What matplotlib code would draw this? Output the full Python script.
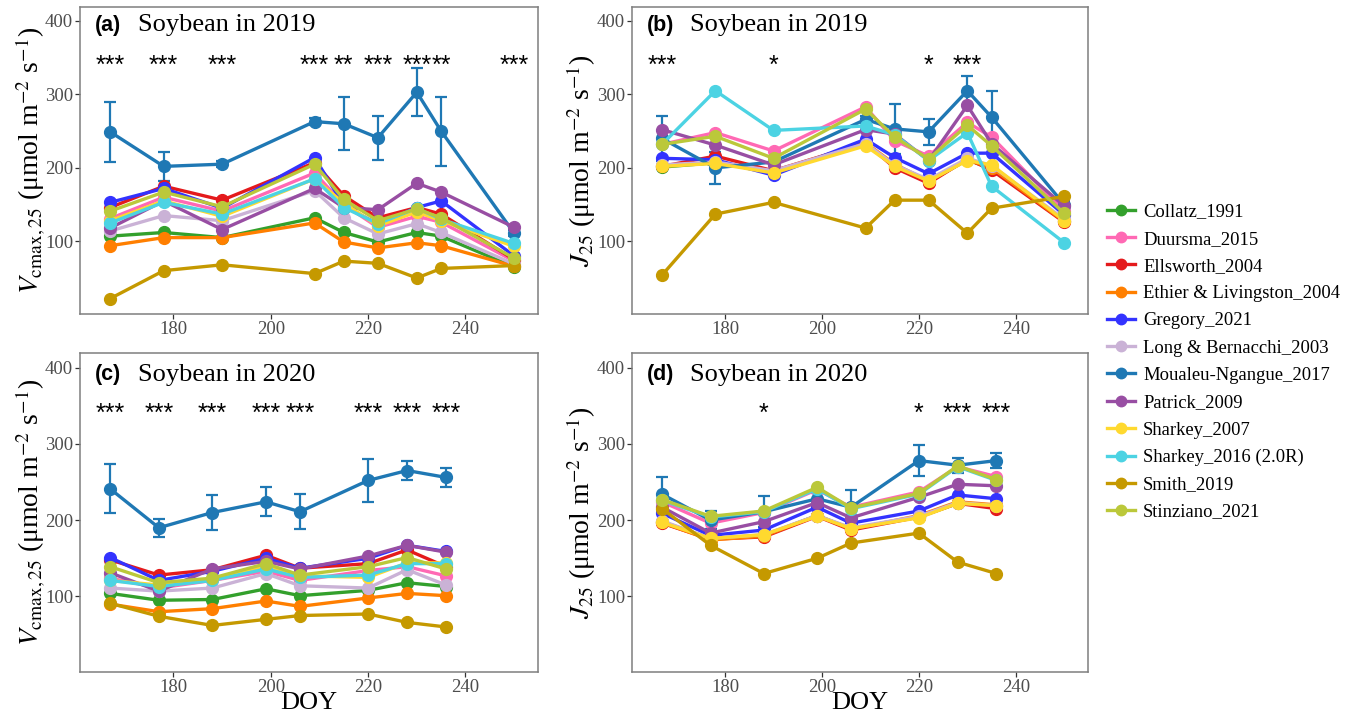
import numpy as np
import matplotlib
matplotlib.use("Agg")
import matplotlib.pyplot as plt
from matplotlib.lines import Line2D

plt.rcParams['font.family'] = ['Liberation Serif', 'DejaVu Serif']
plt.rcParams['mathtext.fontset'] = 'stix'

# Study names and colours (legend order)
studies = ["Collatz_1991", "Duursma_2015", "Ellsworth_2004", "Ethier & Livingston_2004",
           "Gregory_2021", "Long & Bernacchi_2003", "Moualeu-Ngangue_2017", "Patrick_2009",
           "Sharkey_2007", "Sharkey_2016 (2.0R)", "Smith_2019", "Stinziano_2021"]
colors = ["#33A02C", "#FF69B4", "#E41A1C", "#FF7F00", "#3333FF", "#CAB2D6",
          "#1F78B4", "#984EA3", "#FFD92F", "#4CD3E3", "#C59900", "#BBC83A"]

doy_2019 = [167, 178, 190, 209, 215, 222, 230, 235, 250]
doy_2020 = [167, 177, 188, 199, 206, 220, 228, 236]

# Vcmax,25 2019
vcmax_2019 = {
    "Collatz_1991":             [107, 112, 105, 132, 112, 99, 112, 107, 65],
    "Duursma_2015":             [131, 160, 141, 193, 150, 119, 134, 126, 73],
    "Ellsworth_2004":           [146, 175, 156, 207, 162, 132, 146, 137, 75],
    "Ethier & Livingston_2004": [94, 105, 105, 125, 99, 91, 98, 94, 66],
    "Gregory_2021":             [153, 172, 145, 214, 149, 123, 146, 155, 80],
    "Long & Bernacchi_2003":    [114, 135, 128, 169, 132, 110, 124, 112, 69],
    "Moualeu-Ngangue_2017":     [249, 202, 205, 263, 260, 241, 303, 250, 111],
    "Patrick_2009":             [118, 155, 116, 172, 146, 143, 179, 167, 119],
    "Sharkey_2007":             [128, 155, 134, 185, 152, 121, 140, 128, 93],
    "Sharkey_2016 (2.0R)":      [125, 153, 137, 185, 146, 124, 145, 130, 97],
    "Smith_2019":               [22, 60, 68, 56, 73, 70, 50, 63, 67],
    "Stinziano_2021":           [141, 167, 147, 205, 157, 128, 144, 132, 77],
}
# J25 2019
j_2019 = {
    "Collatz_1991":             [201, 207, 194, 232, 203, 181, 211, 199, 127],
    "Duursma_2015":             [232, 248, 223, 283, 237, 216, 262, 242, 141],
    "Ellsworth_2004":           [202, 216, 196, 234, 200, 179, 212, 197, 126],
    "Ethier & Livingston_2004": [203, 207, 195, 234, 205, 182, 211, 200, 127],
    "Gregory_2021":             [213, 211, 190, 239, 214, 192, 220, 220, 136],
    "Long & Bernacchi_2003":    [204, 208, 196, 233, 204, 184, 213, 203, 130],
    "Moualeu-Ngangue_2017":     [240, 200, 208, 266, 253, 249, 305, 269, 150],
    "Patrick_2009":             [252, 231, 204, 252, 246, 210, 285, 233, 148],
    "Sharkey_2007":             [202, 206, 193, 230, 202, 182, 210, 204, 128],
    "Sharkey_2016 (2.0R)":      [232, 305, 251, 257, 245, 210, 248, 175, 98],
    "Smith_2019":               [54, 137, 153, 118, 156, 156, 111, 145, 161],
    "Stinziano_2021":           [232, 243, 213, 280, 242, 212, 258, 230, 138],
}
# Vcmax,25 2020
vcmax_2020 = {
    "Collatz_1991":             [104, 95, 96, 110, 101, 108, 118, 113],
    "Duursma_2015":             [124, 111, 121, 133, 121, 134, 139, 127],
    "Ellsworth_2004":           [148, 128, 135, 154, 137, 143, 161, 139],
    "Ethier & Livingston_2004": [90, 80, 84, 94, 87, 98, 104, 101],
    "Gregory_2021":             [151, 121, 133, 150, 137, 150, 167, 159],
    "Long & Bernacchi_2003":    [111, 107, 111, 130, 114, 111, 135, 115],
    "Moualeu-Ngangue_2017":     [241, 190, 210, 224, 211, 252, 265, 256],
    "Patrick_2009":             [131, 107, 136, 146, 136, 153, 167, 158],
    "Sharkey_2007":             [121, 115, 123, 140, 127, 125, 144, 144],
    "Sharkey_2016 (2.0R)":      [121, 113, 121, 136, 125, 128, 143, 143],
    "Smith_2019":               [91, 74, 62, 70, 75, 77, 66, 60],
    "Stinziano_2021":           [139, 118, 124, 143, 128, 139, 151, 136],
}
# J25 2020
j_2020 = {
    "Collatz_1991":             [198, 176, 180, 206, 189, 204, 222, 218],
    "Duursma_2015":             [224, 196, 210, 240, 217, 237, 270, 257],
    "Ellsworth_2004":           [196, 175, 178, 205, 187, 204, 222, 215],
    "Ethier & Livingston_2004": [197, 174, 179, 206, 188, 206, 224, 220],
    "Gregory_2021":             [209, 180, 187, 217, 196, 212, 233, 228],
    "Long & Bernacchi_2003":    [199, 176, 181, 206, 190, 205, 223, 219],
    "Moualeu-Ngangue_2017":     [234, 200, 211, 228, 217, 278, 272, 278],
    "Patrick_2009":             [217, 183, 198, 223, 203, 230, 247, 245],
    "Sharkey_2007":             [197, 176, 181, 205, 189, 203, 222, 219],
    "Sharkey_2016 (2.0R)":      [226, 204, 211, 241, 215, 234, 270, 252],
    "Smith_2019":               [215, 167, 130, 150, 170, 183, 145, 130],
    "Stinziano_2021":           [227, 205, 212, 243, 216, 235, 271, 253],
}

# standard errors of Moualeu-Ngangue_2017 (other studies have tiny bars)
se_vcmax_2019 = [41, 20, 4, 5, 36, 30, 33, 47, 4]
se_j_2019 = [30, 22, 5, 5, 34, 18, 20, 36, 5]
se_vcmax_2020 = [32, 12, 23, 19, 23, 28, 13, 12]
se_j_2020 = [23, 12, 20, 8, 22, 20, 10, 10]

# significance labels per DOY
sig_a = ["***", "***", "***", "***", "**", "***", "***", "**", "***"]
sig_b = ["***", "", "*", "", "", "*", "***", "", ""]
sig_c = ["***", "***", "***", "***", "***", "***", "***", "***"]
sig_d = ["", "", "*", "", "", "*", "***", "***"]

vlabel = r"$V_{\mathrm{cmax,25}}$ (μmol m$^{-2}$ s$^{-1}$)"
jlabel = r"$J_{25}$ (μmol m$^{-2}$ s$^{-1}$)"

W, H = 1349, 719
fig = plt.figure(figsize=(W / 100, H / 100), dpi=100)

def px_axes(l, t, r, b):
    return fig.add_axes([l / W, 1 - b / H, (r - l) / W, (b - t) / H])

panels = [
    (px_axes(80, 7, 538, 314), doy_2019, vcmax_2019, se_vcmax_2019, sig_a, "(a)", "Soybean in 2019", vlabel, -0.072),
    (px_axes(632, 7, 1088, 314), doy_2019, j_2019, se_j_2019, sig_b, "(b)", "Soybean in 2019", jlabel, -0.074),
    (px_axes(80, 353, 538, 672), doy_2020, vcmax_2020, se_vcmax_2020, sig_c, "(c)", "Soybean in 2020", vlabel, -0.072),
    (px_axes(632, 353, 1088, 672), doy_2020, j_2020, se_j_2020, sig_d, "(d)", "Soybean in 2020", jlabel, -0.074),
]

for i, (ax, doy, data, se, sig, tag, title, ylab, lx) in enumerate(panels):
    for k, (name, col) in enumerate(zip(studies, colors)):
        vals = data[name]
        if name == "Moualeu-Ngangue_2017":
            ax.errorbar(doy, vals, yerr=se, color=col, lw=0, elinewidth=1.6,
                        capsize=4, capthick=1.6, zorder=2 + k * 0.1)
        ax.plot(doy, vals, color=col, lw=2.4, marker='o', ms=8.5,
                zorder=3 + k * 0.1)
    for d, s in zip(doy, sig):
        if s:
            ax.text(d, 339, s, ha='center', va='center', fontsize=18,
                    family='Liberation Sans', color='black')
    ty = 0.94 if i < 2 else 0.932
    ax.text(0.033, ty, tag, transform=ax.transAxes, fontsize=15.5,
            fontweight='bold', family='Liberation Sans', va='center', ha='left')
    ax.text(0.127, ty, title, transform=ax.transAxes, fontsize=19,
            va='center', ha='left')
    ax.set_xlim(160.8, 254.9)
    ax.set_ylim(1, 419)
    ax.set_xticks([180, 200, 220, 240])
    ax.set_yticks([100, 200, 300, 400])
    ax.tick_params(labelsize=13.5, colors='#333333', labelcolor='#4D4D4D',
                   length=3.5, width=0.9, pad=1.5)
    for sp in ax.spines.values():
        sp.set_color('#7F7F7F')
        sp.set_linewidth(1.1)
    ax.set_ylabel(ylab, fontsize=20)
    ax.yaxis.set_label_coords(lx, 0.5)
    if i >= 2:
        ax.set_xlabel("DOY", fontsize=19, labelpad=-3)

handles = [Line2D([], [], color=c, lw=2.4, marker='o', ms=7.5) for c in colors]
fig.legend(handles, studies, loc='center left', bbox_to_anchor=(1090 / W, 1 - 362 / H),
           frameon=False, fontsize=13.4, handlelength=1.5, handletextpad=0.45,
           labelspacing=0.55)

fig.savefig("out.png", dpi=100)
